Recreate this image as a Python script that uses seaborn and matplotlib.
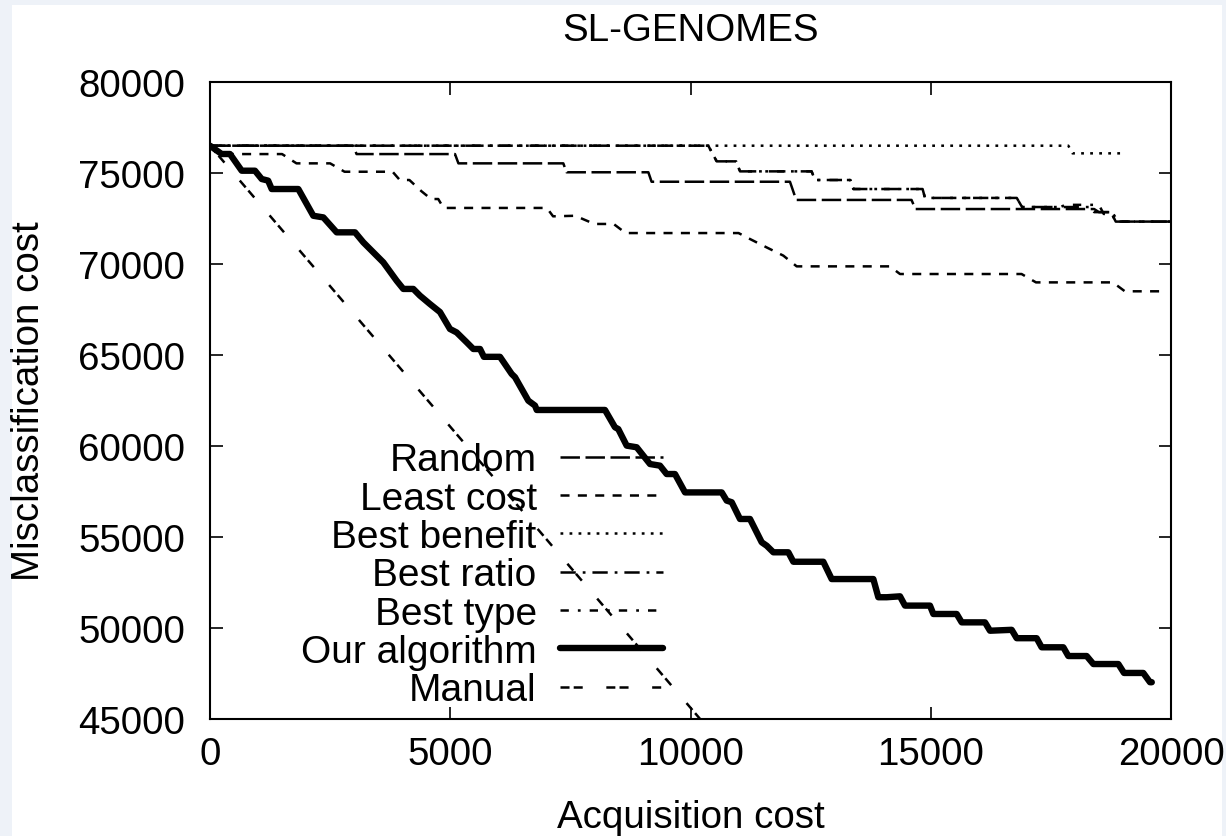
import matplotlib
matplotlib.use("Agg")
import matplotlib.pyplot as plt
import seaborn as sns
from matplotlib.patches import Rectangle

# ---------------- data ----------------
title = "SL-GENOMES"
x_label = "Acquisition cost"
y_label = "Misclassification cost"
x_ticks = [0, 5000, 10000, 15000, 20000]
y_ticks = [45000, 50000, 55000, 60000, 65000, 70000, 75000, 80000]

random_x = [0, 2983, 3050, 5099, 5170, 7353, 7420, 9123, 9190, 12070, 12200,
            14600, 14680, 18400, 18500, 18750, 18850, 20000]
random_y = [76500, 76500, 76040, 76040, 75530, 75530, 75040, 75040, 74520, 74520, 73520,
            73520, 73020, 73020, 72850, 72850, 72330, 72330]

least_x = [0, 250, 1500, 1800, 2500, 2800, 3800, 3950, 4150, 4400, 4600, 4750, 4860,
           7010, 7140, 7600, 8000, 8400, 8650, 11000, 11240, 11586, 11932, 12210,
           14150, 14360, 16890, 17190, 18790, 19040, 19870]
least_y = [76500, 76040, 76040, 75530, 75530, 75070, 75070, 74615, 74615, 74000, 73570, 73570, 73080,
           73080, 72620, 72650, 72200, 72200, 71700, 71700, 71370, 70910, 70460, 69870,
           69870, 69450, 69450, 68990, 68990, 68500, 68500]

benefit_x = [0, 17863, 17950, 19050]
benefit_y = [76500, 76500, 76080, 76080]

ratio_x = [0, 10370, 10545, 10950, 11030, 12520, 12590, 13330, 13390, 14830, 14880,
           16790, 16900, 18300, 18400, 18750, 18850, 20000]
ratio_y = [76500, 76500, 75640, 75640, 75090, 75090, 74615, 74615, 74120, 74120, 73630,
           73630, 73130, 73130, 72850, 72850, 72330, 72330]

type_x = [0, 10370, 10545, 10950, 11030, 12520, 12590, 13330, 13390, 14830, 14880,
          16790, 16900, 17700, 17800, 18500, 18600, 18800, 18900, 20000]
type_y = [76500, 76500, 75640, 75640, 75090, 75090, 74615, 74615, 74120, 74120, 73630,
          73630, 73130, 73130, 73250, 73250, 72750, 72750, 72330, 72330]

ours_x = [0, 243, 416, 660, 936, 1076, 1210, 1284, 1838, 2150, 2359, 2636, 3018, 3191,
          3399, 3607, 3885, 4023, 4231, 4370, 4578, 4786, 4994, 5133, 5341, 5480, 5620,
          5700, 6035, 6278, 6348, 6625, 6764, 6800, 8220, 8428, 8497, 8672, 8880, 9157,
          9365, 9503, 9677, 9886, 10650, 10753, 10858, 11030, 11238, 11482, 11586, 11724,
          12036, 12140, 12764, 12938, 13805, 13909, 14083, 14360, 14464, 14984, 15054,
          15540, 15644, 16129, 16233, 16684, 16788, 17204, 17308, 17759, 17863, 18245,
          18384, 18904, 19022, 19423, 19563, 19600]
ours_y = [76500, 76044, 76044, 75126, 75126, 74670, 74580, 74120, 74120, 72650, 72560, 71740,
          71740, 71190, 70640, 70090, 69080, 68630, 68630, 68260, 67800, 67360, 66430, 66240,
          65700, 65330, 65330, 64900, 64900, 63960, 63780, 62490, 62220, 61980, 61980, 61030,
          60930, 60020, 59930, 59010, 58920, 58460, 58460, 57450, 57450, 57000, 56910, 55990,
          55990, 54710, 54520, 54160, 54160, 53640, 53640, 52690, 52690, 51690, 51690, 51740,
          51230, 51230, 50770, 50770, 50310, 50310, 49850, 49900, 49440, 49440, 48940, 48940,
          48460, 48460, 48020, 48020, 47530, 47530, 47020, 47020]

manual_x = [0, 10200]
manual_y = [76500, 45000]

# ---------------- style ----------------
sns.set_theme(style="ticks")
plt.rcParams["font.family"] = ["Liberation Sans", "DejaVu Sans"]
plt.rcParams["lines.scale_dashes"] = False
plt.rcParams["text.color"] = "black"
plt.rcParams["axes.labelcolor"] = "black"
FS = 27.7

fig = plt.figure(figsize=(12.26, 8.37), dpi=100)
fig.patch.set_facecolor("#eef2f8")
bg = Rectangle((12 / 1226, 0), (1222 - 12) / 1226, (837 - 6) / 837,
               transform=fig.transFigure, facecolor="white",
               edgecolor="none", zorder=-10)
fig.add_artist(bg)
ax = fig.add_axes([210 / 1226, 1 - 720 / 837, (1171 - 210) / 1226, (720 - 83) / 837])
ax.set_zorder(1)
ax.set_facecolor("white")

thin = 1.8
series = [
    ("Random", random_x, random_y, (0, (14, 4)), thin),
    ("Least cost", least_x, least_y, (0, (6.5, 6)), thin),
    ("Best benefit", benefit_x, benefit_y, (0, (2, 4.5)), thin),
    ("Best ratio", ratio_x, ratio_y, (0, (11, 5, 2, 5)), thin),
    ("Best type", type_x, type_y, (0, (6, 6.5, 2, 6.5)), thin),
    ("Our algorithm", ours_x, ours_y, "-", 4.6),
    ("Manual", manual_x, manual_y, (0, (6.5, 3, 6.5, 17)), thin),
]
for name, xs, ys, ls, lw in series:
    sns.lineplot(x=xs, y=ys, ax=ax, color="black", linewidth=lw, linestyle=ls,
                 label=name, estimator=None, sort=False)

ax.set_xlim(0, 20000)
ax.set_ylim(45000, 80000)
ax.set_xticks(x_ticks)
ax.set_yticks(y_ticks)
ax.set_xticklabels([str(t) for t in x_ticks])
ax.set_yticklabels([str(t) for t in y_ticks])
ax.tick_params(axis="both", direction="in", length=9, width=1.2, labelsize=FS,
               top=True, right=True, colors="black")
ax.tick_params(axis="x", pad=12)
ax.tick_params(axis="y", pad=18)
for sp in ax.spines.values():
    sp.set_visible(True)
    sp.set_linewidth(1.5)
    sp.set_color("black")

ax.set_title(title, fontsize=FS, pad=30, color="black")
ax.set_xlabel(x_label, fontsize=FS, labelpad=20, color="black")
ax.set_ylabel(y_label, fontsize=FS, labelpad=22, color="black")

leg = ax.legend(loc="lower right", bbox_to_anchor=(0.4714, 0.017), markerfirst=False,
                frameon=False, handlelength=2.65, handletextpad=0.6, labelspacing=0.06,
                borderpad=0, borderaxespad=0, fontsize=28)
for t in leg.get_texts():
    t.set_color("black")

fig.savefig("out.png", dpi=100, facecolor=fig.get_facecolor())
